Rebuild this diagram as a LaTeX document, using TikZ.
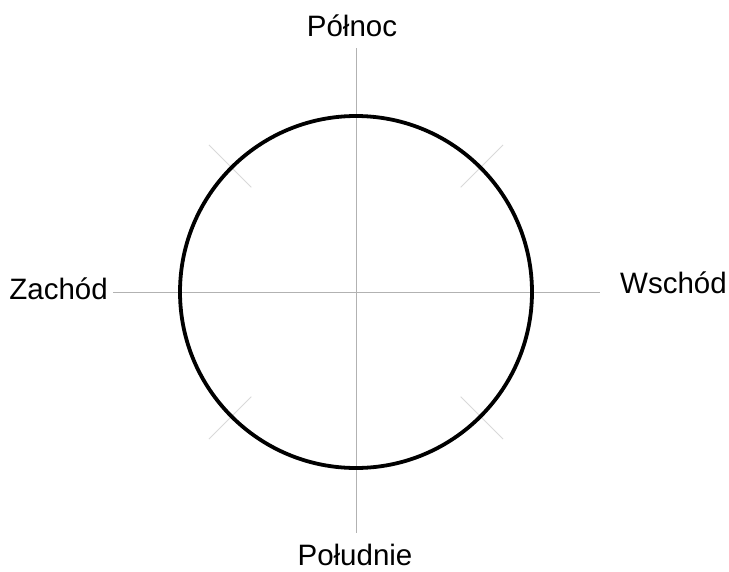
\documentclass[tikz,border=0pt]{standalone}
\usepackage{fontspec}
\setmainfont{Liberation Sans}
\usetikzlibrary{positioning,calc}

\begin{document}
\begin{tikzpicture}[x=1pt, y=-1pt,
  lbl/.style={inner sep=0pt,font=\fontsize{29.5}{34}\selectfont},
  axis/.style={draw=black!30,line width=0.9pt},
  tickln/.style={draw=black!15,line width=0.9pt},
  ring/.style={draw=black,line width=3.8pt}]
  \useasboundingbox (0,0) rectangle (729,571);
  %--- centre and axis ends ---
  \coordinate (c) at (356,292);
  \coordinate (nEnd) at (356,48);
  \coordinate (sEnd) at (356,533);
  \coordinate (wEnd) at (113,292);
  \coordinate (eEnd) at (600,292);
  %--- labels ---
  \node[lbl,anchor=base] (north) at (352,36) {Północ};
  \node[lbl,anchor=base] (south) at (355,565) {Południe};
  \node[lbl,anchor=base east] (west) at (108,299) {Zachód};
  \node[lbl,anchor=base west] (east) at (620,293) {Wschód};
  %--- axes ---
  \draw[axis] (nEnd) -- (sEnd);
  \draw[axis] (wEnd) -- (eEnd);
  %--- diagonal marks ---
  \foreach \a in {45,135,225,315}
    \draw[tickln] ($(c)+(\a:148)$) -- ($(c)+(\a:208)$);
  %--- circle ---
  \draw[ring] (c) circle (176);
\end{tikzpicture}
\end{document}
